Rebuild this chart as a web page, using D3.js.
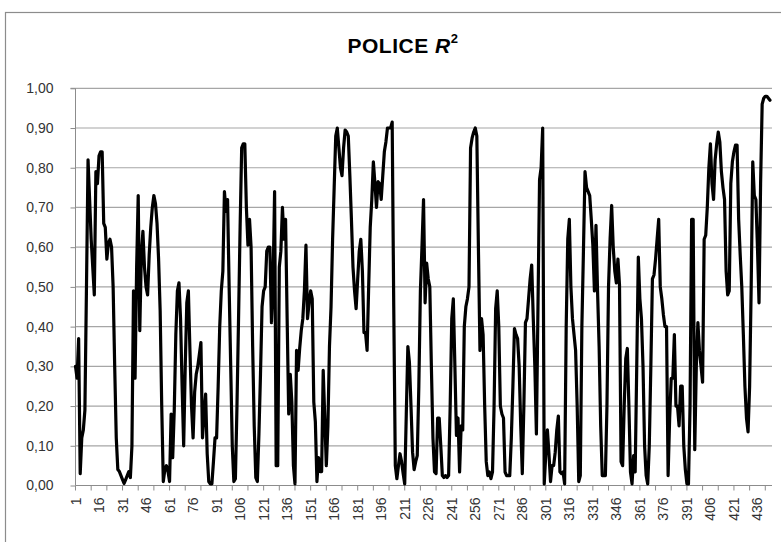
<!DOCTYPE html>
<html>
<head>
<meta charset="utf-8">
<script src="https://d3js.org/d3.v7.min.js"></script>
<style>
    body { margin: 0; background: #ffffff; }
    svg { display: block; font-family: "Liberation Sans", Arial, sans-serif; }
</style>
</head>
<body>
<script>
// R2 value of each observation, 1 .. 444
var r2Values = [
    0.30, 0.27, 0.37, 0.03, 0.12, 0.14, 0.19, 0.50, 0.82, 0.72,
    0.62, 0.55, 0.48, 0.79, 0.76, 0.83, 0.84, 0.84, 0.66, 0.65,
    0.57, 0.61, 0.62, 0.60, 0.50, 0.30, 0.12, 0.04, 0.035, 0.025,
    0.015, 0.005, 0.015, 0.025, 0.035, 0.02, 0.10, 0.49, 0.27, 0.55,
    0.73, 0.39, 0.58, 0.64, 0.55, 0.50, 0.48, 0.58, 0.65, 0.70,
    0.73, 0.71, 0.66, 0.57, 0.44, 0.20, 0.01, 0.04, 0.05, 0.035,
    0.01, 0.18, 0.07, 0.19, 0.38, 0.49, 0.51, 0.42, 0.25, 0.10,
    0.30, 0.46, 0.49, 0.34, 0.20, 0.12, 0.235, 0.28, 0.30, 0.33,
    0.36, 0.12, 0.18, 0.23, 0.08, 0.01, 0.004, 0.004, 0.06, 0.12,
    0.12, 0.25, 0.40, 0.49, 0.54, 0.74, 0.69, 0.72, 0.50, 0.30,
    0.10, 0.01, 0.017, 0.20, 0.42, 0.65, 0.85, 0.86, 0.86, 0.70,
    0.605, 0.67, 0.60, 0.35, 0.15, 0.02, 0.01, 0.13, 0.28, 0.45,
    0.49, 0.50, 0.59, 0.60, 0.60, 0.41, 0.505, 0.74, 0.05, 0.05,
    0.55, 0.59, 0.70, 0.62, 0.67, 0.42, 0.18, 0.28, 0.21, 0.05,
    0.004, 0.34, 0.29, 0.345, 0.39, 0.42, 0.49, 0.605, 0.42, 0.46,
    0.49, 0.47, 0.21, 0.16, 0.01, 0.07, 0.035, 0.035, 0.29, 0.17,
    0.05, 0.15, 0.35, 0.45, 0.62, 0.75, 0.88, 0.90, 0.85, 0.80,
    0.78, 0.85, 0.895, 0.89, 0.88, 0.78, 0.67, 0.55, 0.49, 0.445,
    0.52, 0.59, 0.62, 0.54, 0.385, 0.385, 0.34, 0.50, 0.65, 0.72,
    0.815, 0.76, 0.70, 0.765, 0.76, 0.72, 0.78, 0.84, 0.865, 0.90,
    0.90, 0.90, 0.915, 0.45, 0.05, 0.017, 0.05, 0.08, 0.06, 0.03,
    0.004, 0.18, 0.35, 0.31, 0.20, 0.084, 0.04, 0.06, 0.075, 0.25,
    0.49, 0.60, 0.72, 0.46, 0.56, 0.52, 0.50, 0.30, 0.12, 0.034,
    0.03, 0.17, 0.17, 0.10, 0.025, 0.02, 0.025, 0.02, 0.025, 0.20,
    0.42, 0.47, 0.30, 0.126, 0.17, 0.034, 0.15, 0.14, 0.40, 0.45,
    0.47, 0.50, 0.85, 0.875, 0.89, 0.90, 0.88, 0.60, 0.34, 0.42,
    0.38, 0.20, 0.06, 0.025, 0.034, 0.017, 0.034, 0.20, 0.445, 0.49,
    0.40, 0.20, 0.18, 0.17, 0.034, 0.025, 0.025, 0.025, 0.12, 0.25,
    0.395, 0.38, 0.37, 0.30, 0.15, 0.03, 0.20, 0.41, 0.42, 0.47,
    0.52, 0.555, 0.42, 0.30, 0.13, 0.45, 0.77, 0.80, 0.90, 0.004,
    0.08, 0.14, 0.08, 0.01, 0.05, 0.05, 0.084, 0.14, 0.175, 0.034,
    0.03, 0.034, 0.004, 0.40, 0.62, 0.67, 0.50, 0.42, 0.38, 0.34,
    0.20, 0.01, 0.025, 0.40, 0.59, 0.79, 0.75, 0.74, 0.73, 0.67,
    0.605, 0.49, 0.655, 0.49, 0.35, 0.15, 0.025, 0.025, 0.025, 0.20,
    0.50, 0.62, 0.705, 0.60, 0.54, 0.51, 0.57, 0.505, 0.06, 0.05,
    0.20, 0.32, 0.345, 0.20, 0.034, 0.004, 0.075, 0.034, 0.30, 0.575,
    0.47, 0.42, 0.30, 0.10, 0.025, 0.004, 0.10, 0.30, 0.52, 0.53,
    0.57, 0.62, 0.67, 0.50, 0.47, 0.43, 0.40, 0.40, 0.025, 0.17,
    0.27, 0.27, 0.38, 0.20, 0.20, 0.15, 0.25, 0.25, 0.10, 0.04,
    0.004, 0.004, 0.20, 0.67, 0.67, 0.09, 0.30, 0.41, 0.34, 0.30,
    0.26, 0.62, 0.63, 0.70, 0.80, 0.86, 0.76, 0.72, 0.82, 0.86,
    0.89, 0.865, 0.79, 0.75, 0.72, 0.54, 0.48, 0.49, 0.76, 0.815,
    0.84, 0.857, 0.857, 0.67, 0.58, 0.50, 0.38, 0.25, 0.17, 0.135,
    0.25, 0.50, 0.815, 0.73, 0.72, 0.60, 0.46, 0.76, 0.96, 0.975,
    0.98, 0.98, 0.975, 0.97
];
var categories = d3.range(1, r2Values.length + 1);
var labelTicks = d3.range(1, 437, 15);     // 1, 16, ... 436
var markTicks = d3.range(1, 445, 10);      // small tick marks
var yTicks = d3.range(0, 1.001, 0.1);

var W = 781, H = 542;
var svg = d3.select("body").append("svg")
    .attr("width", W)
    .attr("height", H);

// chart frame
svg.append("rect")
    .attr("x", 5.5).attr("y", 12.5)
    .attr("width", W + 10).attr("height", H + 10)
    .attr("fill", "#fff")
    .attr("stroke", "#8c8c8c")
    .attr("stroke-width", 1.2);

var x = d3.scaleLinear()
    .domain([1, 444])
    .range([75.5, 770]);

var y = d3.scaleLinear()
    .domain([0, 1])
    .range([485.5, 88.3]);

var plotRight = 772;

// gridlines
svg.append("g")
    .selectAll("line")
    .data(yTicks.slice(1))
    .enter().append("line")
    .attr("x1", 75.5).attr("x2", plotRight)
    .attr("y1", function(d) { return y(d); })
    .attr("y2", function(d) { return y(d); })
    .attr("stroke", "#a6a6a6")
    .attr("stroke-width", 1.2);

// y axis
var yAxis = svg.append("g")
    .attr("transform", "translate(75.5,0)")
    .call(d3.axisLeft(y)
        .tickValues(yTicks)
        .tickSize(5)
        .tickPadding(17)
        .tickFormat(function(d) { return d3.format(".2f")(d).replace(".", ","); }));
yAxis.select(".domain").attr("stroke", "#8c8c8c").attr("d", "M-5," + y(1) + "H0V" + y(0));
yAxis.selectAll(".tick line").attr("stroke", "#8c8c8c");
yAxis.selectAll(".tick text")
    .attr("fill", "#333")
    .style("font-size", "14px");

// x axis line and small ticks
var xAxis = svg.append("g")
    .attr("transform", "translate(0," + y(0) + ")");
xAxis.append("line")
    .attr("x1", 75.5).attr("x2", plotRight)
    .attr("stroke", "#8c8c8c")
    .attr("stroke-width", 1.2);
xAxis.selectAll(".mark")
    .data(markTicks)
    .enter().append("line")
    .attr("class", "mark")
    .attr("x1", function(d) { return x(d); })
    .attr("x2", function(d) { return x(d); })
    .attr("y1", 0).attr("y2", 5)
    .attr("stroke", "#8c8c8c");

xAxis.selectAll(".lbl")
    .data(labelTicks)
    .enter().append("text")
    .attr("class", "lbl")
    .attr("transform", function(d) { return "translate(" + (x(d) + 5) + ",12) rotate(-90)"; })
    .attr("text-anchor", "end")
    .attr("fill", "#333")
    .style("font-size", "14px")
    .text(function(d) { return d; });

// the series
var line = d3.line()
    .x(function(d, i) { return x(categories[i]); })
    .y(function(d) { return y(d); });

svg.append("path")
    .datum(r2Values)
    .attr("d", line)
    .attr("fill", "none")
    .attr("stroke", "#000")
    .attr("stroke-width", 3.2)
    .attr("stroke-linejoin", "round")
    .attr("stroke-linecap", "round");

// title
var title = svg.append("text")
    .attr("x", 403)
    .attr("y", 53)
    .attr("text-anchor", "middle")
    .style("font-size", "21px")
    .style("letter-spacing", "0.5px")
    .style("font-weight", "bold")
    .attr("fill", "#000");
title.append("tspan").text("POLICE ");
title.append("tspan").style("font-style", "italic").text("R");
title.append("tspan").attr("dy", -10).style("font-size", "13px").text("2");
</script>
</body>
</html>
